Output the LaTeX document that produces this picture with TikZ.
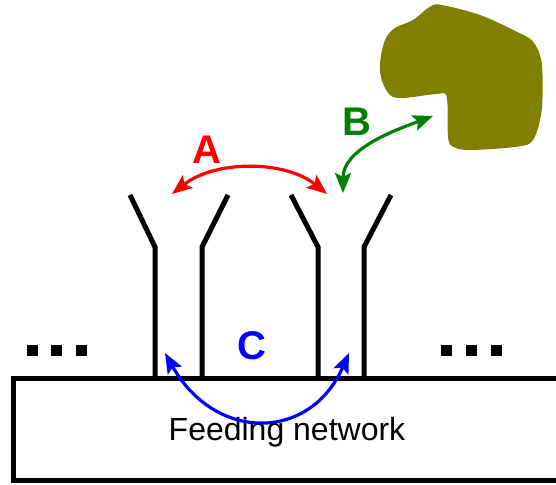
\documentclass[tikz,border=0pt]{standalone}
\usepackage{fontspec}
\setmainfont{Liberation Sans}
\usetikzlibrary{arrows.meta}
\definecolor{blob}{RGB}{128,128,0}
\definecolor{gr}{RGB}{0,128,0}
\begin{document}
\begin{tikzpicture}[x=1pt,y=-1pt,
  wall/.style={line width=5pt,line join=miter},
  dual/.style={line width=3.2pt,{Stealth[length=20pt,width=16pt,inset=4pt]}-{Stealth[length=20pt,width=16pt,inset=4pt]}},
  lab/.style={font=\fontsize{40}{40}\selectfont\bfseries},
  dot/.style={fill=black,minimum size=11pt,inner sep=0pt}]
\useasboundingbox (0,0) rectangle (556,484);
% feeding network box
\draw[wall] (562,378) -- (13,378) -- (13,480) -- (562,480);
\node[font=\fontsize{32}{32}\selectfont] (feed) at (287,432) {Feeding network};
% antennas
\draw[wall] (130,195) -- (155,247) -- (155,378);
\draw[wall] (228,195) -- (202,247) -- (202,378);
\draw[wall] (291,195) -- (318,247) -- (318,378);
\draw[wall] (391,195) -- (364,247) -- (364,378);
% dots
\foreach \x/\n in {32/l1,56/l2,81/l3,446/r1,471/r2,496/r3}
  \node[dot] (\n) at (\x,350) {};
% scatterer blob
\fill[blob] plot[smooth cycle,tension=0.55] coordinates {
 (441.7,5) (480,15) (516.7,31.7) (533,41.7) (541.7,63.3) (541.7,110) (533,140)
 (516.7,146.7) (470,150) (453,146.7) (448,136.7) (446.7,97) (436.7,94)
 (403,98) (390,95) (381.7,80) (380,63) (385,40) (395,28) (413,20) (430,6.7)};
% coupling arrows
\coordinate (a1) at (172,194);
\coordinate (a2) at (327,194);
\draw[dual,red] (a1) .. controls (215,160) and (285,160) .. (a2);
\node[lab,red] (A) at (207,150) {A};
\coordinate (b1) at (433,116);
\coordinate (b2) at (343,193);
\draw[dual,gr] (b1) .. controls (390,132) and (343,150) .. (b2);
\node[lab,gr] (B) at (357,122) {B};
\coordinate (c1) at (165,353);
\coordinate (c2) at (349,353);
\draw[dual,blue] (c1) .. controls (215,442) and (310,442) .. (c2);
\node[lab,blue] (C) at (252,346) {C};
\end{tikzpicture}
\end{document}
